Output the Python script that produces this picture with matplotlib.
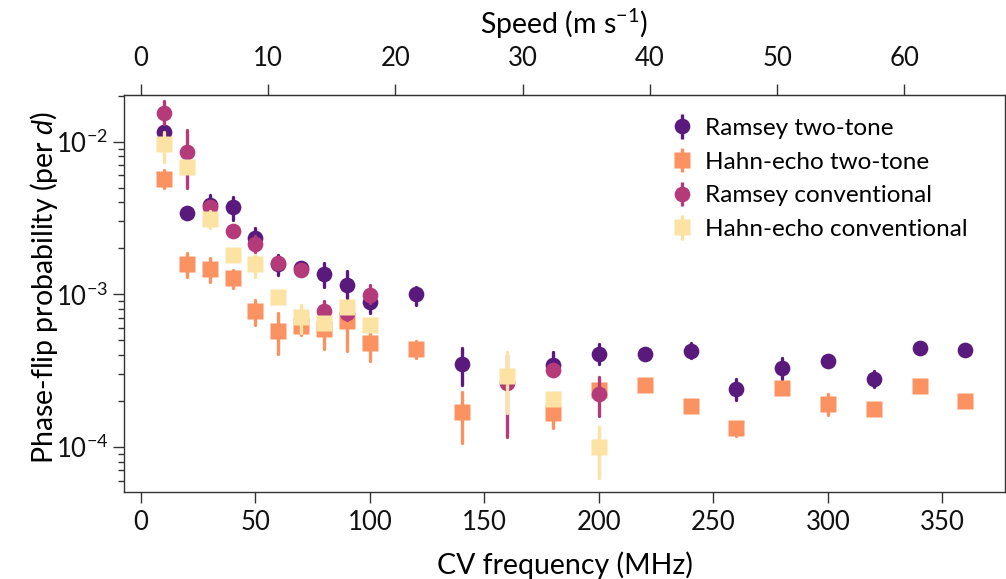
import matplotlib
matplotlib.use("Agg")
import matplotlib.pyplot as plt
import numpy as np

# ---------------- data ----------------
f_rt = [10, 20, 30, 40, 50, 60, 70, 80, 90, 100, 120, 140, 180, 200, 220, 240, 260, 280, 300, 320, 340, 360]
p_rt = [1.16e-2, 3.42e-3, 3.85e-3, 3.72e-3, 2.33e-3, 1.58e-3, 1.49e-3, 1.35e-3, 1.14e-3, 8.9e-4, 1.0e-3,
        3.48e-4, 3.44e-4, 4.06e-4, 4.03e-4, 4.27e-4, 2.38e-4, 3.27e-4, 3.65e-4, 2.79e-4, 4.42e-4, 4.31e-4]
lo_rt = [1.08e-2, 3.3e-3, 3.3e-3, 3.06e-3, 1.95e-3, 1.34e-3, 1.40e-3, 1.12e-3, 9.4e-4, 7.5e-4, 8.5e-4,
         2.54e-4, 2.9e-4, 3.5e-4, 3.9e-4, 3.8e-4, 2.02e-4, 2.77e-4, 3.5e-4, 2.45e-4, 4.3e-4, 4.2e-4]
hi_rt = [1.25e-2, 3.55e-3, 4.47e-3, 4.36e-3, 2.70e-3, 1.80e-3, 1.58e-3, 1.60e-3, 1.41e-3, 1.05e-3, 1.12e-3,
         4.42e-4, 4.2e-4, 4.7e-4, 4.2e-4, 4.8e-4, 2.77e-4, 3.79e-4, 3.8e-4, 3.12e-4, 4.55e-4, 4.45e-4]

f_ht = [10, 20, 30, 40, 50, 60, 70, 80, 90, 100, 120, 140, 180, 200, 220, 240, 260, 280, 300, 320, 340, 360]
p_ht = [5.67e-3, 1.58e-3, 1.47e-3, 1.27e-3, 7.76e-4, 5.77e-4, 6.2e-4, 5.9e-4, 6.7e-4, 4.77e-4, 4.37e-4,
        1.70e-4, 1.67e-4, 2.36e-4, 2.54e-4, 1.85e-4, 1.32e-4, 2.44e-4, 1.92e-4, 1.77e-4, 2.50e-4, 1.99e-4]
lo_ht = [4.95e-3, 1.30e-3, 1.21e-3, 1.09e-3, 6.3e-4, 4.06e-4, 5.4e-4, 4.4e-4, 4.22e-4, 3.67e-4, 3.8e-4,
         1.05e-4, 1.32e-4, 2.1e-4, 2.45e-4, 1.75e-4, 1.17e-4, 2.35e-4, 1.62e-4, 1.7e-4, 2.4e-4, 1.9e-4]
hi_ht = [6.5e-3, 1.85e-3, 1.72e-3, 1.44e-3, 9.2e-4, 7.5e-4, 7.3e-4, 7.5e-4, 8.3e-4, 5.8e-4, 4.9e-4,
         2.30e-4, 2.1e-4, 2.6e-4, 2.65e-4, 1.95e-4, 1.45e-4, 2.55e-4, 2.2e-4, 1.85e-4, 2.6e-4, 2.08e-4]

f_rc = [10, 20, 30, 40, 50, 60, 70, 80, 90, 100, 160, 180, 200]
p_rc = [1.55e-2, 8.52e-3, 3.7e-3, 2.6e-3, 2.13e-3, 1.61e-3, 1.44e-3, 7.8e-4, 7.5e-4, 9.9e-4, 2.6e-4, 3.18e-4, 2.22e-4]
lo_rc = [1.3e-2, 4.95e-3, 3.4e-3, 2.45e-3, 1.9e-3, 1.5e-3, 1.38e-3, 6.5e-4, 6.8e-4, 8.8e-4, 1.16e-4, 2.9e-4, 1.60e-4]
hi_rc = [1.85e-2, 1.19e-2, 4.0e-3, 2.75e-3, 2.4e-3, 1.75e-3, 1.5e-3, 9.0e-4, 8.2e-4, 1.15e-3, 4.0e-4, 3.5e-4, 2.85e-4]

f_hc = [10, 20, 30, 40, 50, 60, 70, 80, 90, 100, 160, 180, 200]
p_hc = [9.66e-3, 6.79e-3, 3.1e-3, 1.81e-3, 1.58e-3, 9.55e-4, 7.05e-4, 6.45e-4, 8.2e-4, 6.25e-4, 2.91e-4, 2.07e-4, 1.0e-4]
lo_hc = [7.4e-3, 6.2e-3, 2.7e-3, 1.7e-3, 1.3e-3, 9.0e-4, 5.6e-4, 6.0e-4, 7.6e-4, 5.9e-4, 1.66e-4, 1.9e-4, 6.2e-5]
hi_hc = [1.15e-2, 7.4e-3, 3.5e-3, 1.95e-3, 1.8e-3, 1.0e-3, 8.5e-4, 6.9e-4, 8.8e-4, 6.6e-4, 4.2e-4, 2.25e-4, 1.35e-4]

labels = ["Ramsey two-tone", "Hahn-echo two-tone", "Ramsey conventional", "Hahn-echo conventional"]
speed_ticks = [0, 10, 20, 30, 40, 50, 60]
freq_ticks = [0, 50, 100, 150, 200, 250, 300, 350]
SPEED_PER_MHZ = 0.18

# ---------------- style ----------------
FONT = "Lato"
plt.rcParams["font.family"] = [FONT, "DejaVu Sans"]
plt.rcParams["mathtext.fontset"] = "custom"
plt.rcParams["mathtext.rm"] = FONT
plt.rcParams["mathtext.it"] = FONT + ":italic"
plt.rcParams["mathtext.default"] = "regular"

edge = "#333333"
colors = ["#5a197d", "#fb9261", "#b53a79", "#fce2a3"]
markers = ["o", "s", "o", "s"]

fig = plt.figure(figsize=(10.06, 5.79), dpi=100)
ax = fig.add_axes([124 / 1006, 1 - 492 / 579, (1005 - 124) / 1006, (492 - 95) / 579])

series = [(f_rt, p_rt, lo_rt, hi_rt), (f_ht, p_ht, lo_ht, hi_ht),
          (f_rc, p_rc, lo_rc, hi_rc), (f_hc, p_hc, lo_hc, hi_hc)]
handles = []
for i, (f, p, lo, hi) in enumerate(series):
    p = np.array(p); lo = np.array(lo); hi = np.array(hi)
    yerr = np.vstack([p - lo, hi - p])
    cont = ax.errorbar(f, p, yerr=yerr, fmt=markers[i], ms=11.3, color=colors[i],
                       mec="none", elinewidth=2.4, capsize=0, zorder=2 + 2 * i,
                       label=labels[i])
    for lc in cont[2]:
        lc.set_capstyle("round")
    handles.append(cont)

ax.set_yscale("log")
ax.set_ylim(5.05e-5, 2.02e-2)
ax.set_xlim(-7.4, 377.3)
ax.set_xticks(freq_ticks)

for s in ax.spines.values():
    s.set_color(edge)
    s.set_linewidth(1.0)

ax.tick_params(axis="both", which="major", direction="out", length=8, width=1.0,
               color=edge, labelsize=18.5, labelcolor="#111111")
ax.tick_params(axis="x", which="major", pad=5)
ax.tick_params(axis="y", which="minor", direction="out", length=4.5, width=1.0, color=edge)
ax.tick_params(axis="x", which="minor", bottom=False)

ax.set_xlabel("CV frequency (MHz)", fontsize=20.5, labelpad=12)
ax.set_ylabel("Phase-flip probability (per $\\it{d}$)", fontsize=20.5)
ax.yaxis.set_label_coords(-0.073, 0.515)

sec = ax.secondary_xaxis("top", functions=(lambda x: x * SPEED_PER_MHZ, lambda v: v / SPEED_PER_MHZ))
sec.set_xticks(speed_ticks)
sec.tick_params(axis="x", which="major", direction="out", length=8, width=1.0, color=edge,
                labelsize=18.5, labelcolor="#111111", pad=9)
sec.tick_params(axis="x", which="minor", top=False)
sec.spines["top"].set_color(edge)
sec.set_xlabel("Speed (m s$^{-1}$)", fontsize=20.5, labelpad=9)

leg = ax.legend(handles=handles, labels=labels, loc="upper right", frameon=False,
                fontsize=17.5, handlelength=0.8, handletextpad=0.55, labelspacing=0.52,
                bbox_to_anchor=(0.977, 0.985), borderaxespad=0.3)

fig.savefig("out.png", dpi=100)
